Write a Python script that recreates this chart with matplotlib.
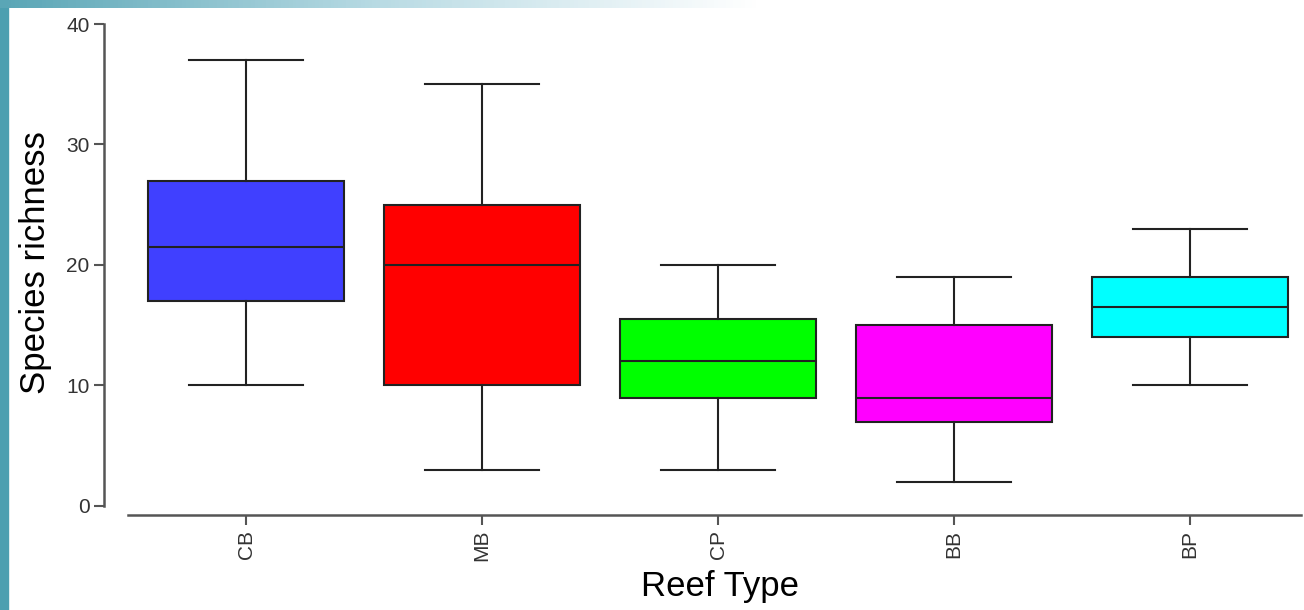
import matplotlib
matplotlib.use("Agg")
import matplotlib.pyplot as plt
import numpy as np
from matplotlib.colors import LinearSegmentedColormap
from matplotlib.patches import Rectangle

plt.rcParams['font.family'] = ['Liberation Sans', 'DejaVu Sans']

# data
reef_types = ['CB', 'MB', 'CP', 'BB', 'BP']
whisker_low = [10, 3, 3, 2, 10]
q1 = [17, 10, 9, 7, 14]
medians = [21.5, 20, 12, 9, 16.5]
q3 = [27, 25, 15.5, 15, 19]
whisker_high = [37, 35, 20, 19, 23]
box_colors = ['#4040ff', '#ff0000', '#00ff00', '#ff00ff', '#00ffff']

fig = plt.figure(figsize=(13.04, 6.1), dpi=100)

# slide decoration: teal strip on the left, fading bar on top
fig.add_artist(Rectangle((0, 0), 8 / 1304, 1, transform=fig.transFigure,
                         color='#4d9fb0', zorder=0))
bar = fig.add_axes([0, 1 - 8 / 610, 760 / 1304, 8 / 610])
fade = LinearSegmentedColormap.from_list('fade', ['#5aa6b6', '#b9dbe4', '#ffffff'])
bar.imshow(np.linspace(0, 1, 200)[None, :], aspect='auto', cmap=fade)
bar.axis('off')

ax = fig.add_axes([104 / 1304, 1 - 515 / 610, 1 - 104 / 1304, (515 - 24) / 610])

stats = []
for i, name in enumerate(reef_types):
    stats.append({'label': name, 'whislo': whisker_low[i], 'q1': q1[i],
                  'med': medians[i], 'q3': q3[i], 'whishi': whisker_high[i],
                  'fliers': []})

bp = ax.bxp(stats, positions=range(1, 6), widths=0.83, patch_artist=True,
            showfliers=False,
            boxprops=dict(edgecolor='#222222', linewidth=1.5),
            medianprops=dict(color='#222222', linewidth=1.5),
            whiskerprops=dict(color='#222222', linewidth=1.5),
            capprops=dict(color='#222222', linewidth=1.5),
            capwidths=0.48)
for patch, c in zip(bp['boxes'], box_colors):
    patch.set_facecolor(c)

ax.set_xlim(0.398, 5.483)
ax.set_ylim(-0.75, 40)
ax.set_yticks([0, 10, 20, 30, 40])
ax.set_xticks(range(1, 6))
ax.set_xticklabels(reef_types, rotation=90)

for s in ['top', 'right']:
    ax.spines[s].set_visible(False)
ax.spines['left'].set_bounds(0, 40)
ax.spines['bottom'].set_bounds(0.5, 5.47)
for s in ['left', 'bottom']:
    ax.spines[s].set_color('#555555')
    ax.spines[s].set_linewidth(1.8)
ax.tick_params(axis='both', colors='#555555', length=7, width=1.5,
               labelsize=15, labelcolor='#333333')

ax.set_ylabel('Species richness', fontsize=25)
ax.set_xlabel('Reef Type', fontsize=25)
ax.yaxis.set_label_coords(-0.043, 0.515)
ax.xaxis.set_label_coords(0.513, -0.112)

fig.savefig('out.png', dpi=100)
